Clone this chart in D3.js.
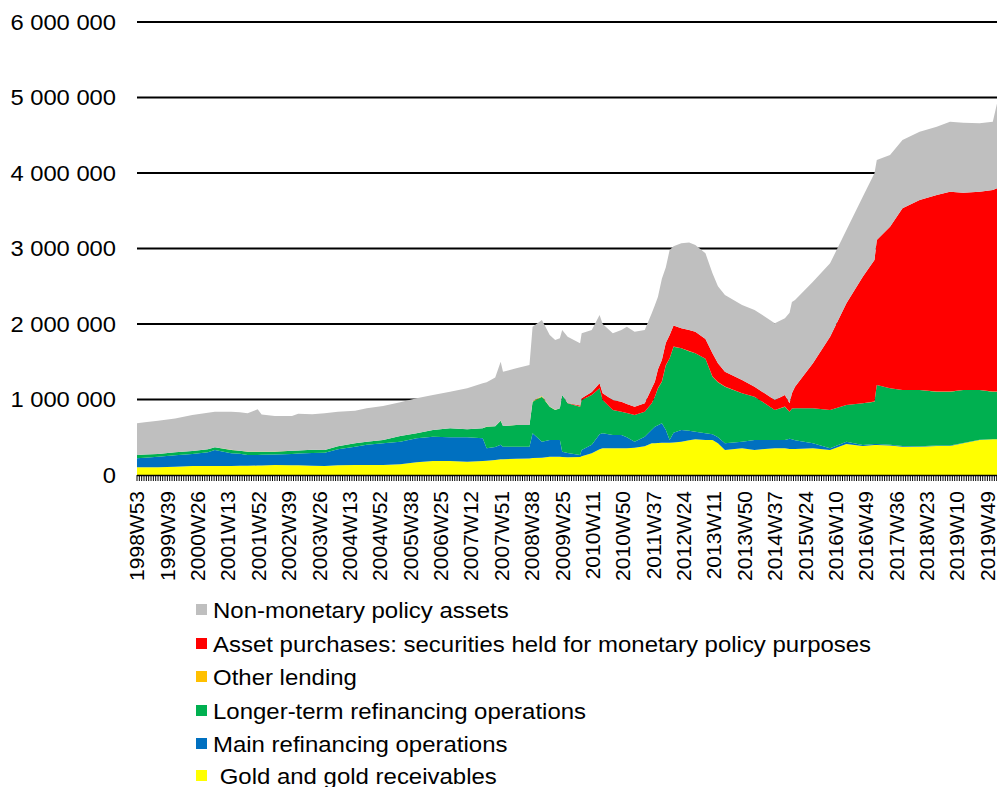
<!DOCTYPE html>
<html><head><meta charset="utf-8">
<script src="https://cdn.jsdelivr.net/npm/d3@7"></script>
<style>
html,body{margin:0;padding:0;background:#fff;}
svg{display:block;font-family:"Liberation Sans",Arial,sans-serif;}
</style></head><body>
<svg id="chart" width="997" height="787"></svg>
<script>
// ---- categories / ticks ----
const startWeek = "1998W53";
const endWeek = "2020W10";
const longYears = [2004, 2009, 2015, 2020];
const yTicks = [0, 1000000, 2000000, 3000000, 4000000, 5000000, 6000000];

// ---- sampled weeks (EUR millions) ----
const weeks = ["1998W53","1999W10","1999W27","1999W49","2000W19","2000W39","2000W48","2001W17","2001W28","2001W38",
"2001W51","2002W04","2002W21","2002W43","2002W51","2003W17","2003W33","2003W50","2004W20","2004W35",
"2005W03","2005W25","2005W46","2006W15","2006W37","2007W07","2007W27","2007W32","2007W43","2007W50",
"2008W01","2008W18","2008W35","2008W39","2008W51","2009W09","2009W16","2009W22","2009W25","2009W32",
"2009W48","2009W50","2010W10","2010W20","2010W24","2010W37","2010W48","2011W03","2011W13","2011W26",
"2011W35","2011W39","2011W43","2011W48","2012W01","2012W06","2012W11","2012W21","2012W31","2012W39",
"2012W52","2013W09","2013W16","2013W25","2013W47","2014W11","2014W24","2014W37","2014W50","2015W04",
"2015W07","2015W11","2015W34","2016W03","2016W24","2016W45","2017W08","2017W11","2017W28","2017W44",
"2018W14","2018W36","2019W01","2019W18","2019W39","2020W04","2020W10"];

const gold = [102000,102000,102000,110000,119000,119000,119000,119000,122000,122000,
125000,125000,132000,128000,128000,124000,119000,128000,132000,132000,
132000,141000,168000,185000,185000,177000,185000,190000,200000,208000,
208000,216000,220000,225000,230000,243000,243000,243000,240000,235000,
240000,250000,287000,340000,353000,353000,353000,355000,362000,380000,
420000,420000,425000,428000,428000,428000,430000,440000,460000,472000,
464000,464000,420000,331000,353000,331000,345000,353000,353000,345000,
345000,345000,353000,331000,411000,384000,397000,397000,390000,375000,
375000,384000,384000,420000,464000,472000,472000];

const mro = [119000,128000,141000,150000,159000,181000,212000,168000,158000,143000,
140000,143000,138000,150000,157000,166000,177000,212000,243000,268000,
287000,300000,318000,323000,314000,322000,301000,163000,170000,192000,
167000,159000,155000,327000,211000,221000,221000,221000,69000,55000,
25000,81000,113000,200000,199000,177000,177000,145000,79000,128000,
180000,220000,235000,257000,172000,36000,130000,156000,125000,102000,
88000,76000,80000,89000,88000,133000,119000,111000,111000,135000,
127000,115000,67000,22000,30000,13000,14000,14000,10000,9000,
5000,6000,6000,5000,4000,3000,3000];

const ltro = [44000,40000,35000,40000,40000,40000,36000,44000,40000,44000,
44000,41000,39000,42000,40000,45000,35000,40000,44000,40000,
45000,76000,66000,88000,119000,106000,132000,287000,275000,320000,
274000,287000,287000,419000,596000,441000,397000,419000,751000,660000,
640000,662000,660000,608000,441000,331000,308000,320000,354000,330000,
350000,397000,490000,551000,850000,1082000,1140000,1082000,1055000,1038000,
988000,762000,730000,750000,641000,573000,486000,397000,441000,358000,
408000,423000,463000,508000,486000,553000,560000,781000,748000,742000,
746000,714000,714000,701000,658000,629000,629000];

const otherLending = [1000,1000,1000,1000,1000,1000,1000,3000,1000,1000,
1000,1000,1000,1000,1000,1000,1000,1000,1000,1000,
1000,1000,1000,1000,1000,1000,1000,3000,1000,2000,
1000,1000,1000,5000,10000,3000,2000,1000,1000,1000,
1000,1000,1000,1000,1000,1000,1000,1000,1000,1000,
1000,1000,1000,2000,2000,2000,2000,1000,1000,1000,
1000,1000,1000,1000,1000,1000,1000,1000,1000,1000,
1000,1000,1000,1000,1000,1000,1000,1000,1000,1000,
1000,1000,1000,1000,1000,1000,1000];

const assetPurchases = [0,0,0,0,0,0,0,0,0,0,
0,0,0,0,0,0,0,0,0,0,
0,0,0,0,0,0,0,0,0,0,
0,0,0,0,0,0,0,0,0,4000,
14000,22000,39000,65000,88000,131000,132000,119000,109000,111000,
199000,198000,249000,285000,298000,306000,278000,264000,279000,285000,
259000,309000,249000,197000,175000,132000,131000,131000,154000,111000,
201000,286000,595000,970000,1346000,1676000,1876000,1920000,2140000,2405000,
2515000,2604000,2647000,2612000,2625000,2670000,2695000];

const nonMonetary = [419000,429000,440000,449000,476000,484000,470000,504000,509000,507000,
560000,490000,471000,460000,484000,467000,485000,457000,432000,444000,
449000,447000,463000,463000,485000,542000,595000,587000,644000,779000,
718000,750000,794000,988000,1006000,946000,925000,926000,860000,877000,
824000,861000,821000,905000,918000,884000,950000,1024000,993000,971000,
992000,1014000,962000,1077000,1000000,1126000,1050000,1126000,1160000,1148000,
1136000,1059000,1020000,1016000,994000,1015000,1018000,1016000,1015000,1200000,
1208000,1148000,1082000,972000,971000,1060000,1148000,1059000,949000,905000,
905000,904000,928000,927000,906000,905000,1150000];

const seriesKeys = ["gold","mro","ltro","other","asset","nonmon"];
const seriesLabels = {
  nonmon: "Non-monetary policy assets",
  asset: "Asset purchases: securities held for monetary policy purposes",
  other: "Other lending",
  ltro: "Longer-term refinancing operations",
  mro: "Main refinancing operations",
  gold: "\u00a0Gold and gold receivables"
};
const seriesColors = {
  nonmon: "#BFBFBF", asset: "#FF0000", other: "#FFC000",
  ltro: "#00B050", mro: "#0070C0", gold: "#FFFF00"
};
const legendOrder = ["nonmon","asset","other","ltro","mro","gold"];

// ---- build full weekly category list ----
const categories = [startWeek];
outer:
for (let yr = 1999; yr <= 2020; yr++) {
  const n = longYears.includes(yr) ? 53 : 52;
  for (let w = 1; w <= n; w++) {
    const lab = yr + "W" + String(w).padStart(2, "0");
    categories.push(lab);
    if (lab === endWeek) break outer;
  }
}

const rows = weeks.map((w, i) => ({
  week: w, gold: gold[i], mro: mro[i], ltro: ltro[i],
  other: otherLending[i], asset: assetPurchases[i], nonmon: nonMonetary[i]
}));

const svg = d3.select("#chart");
const x = d3.scalePoint().domain(categories).range([137, 997.5]);
const y = d3.scaleLinear().domain([0, 6000000]).range([475, 22]);
const fmt = d3.formatLocale({decimal: ".", thousands: " ", grouping: [3], currency: ["", ""]}).format(",");

// gridlines
svg.append("g").selectAll("line").data(yTicks.filter(d => d > 0)).join("line")
  .attr("x1", 137).attr("x2", 997)
  .attr("y1", d => y(d)).attr("y2", d => y(d))
  .attr("stroke", "#000").attr("stroke-width", 2);

// stacked areas
const stack = d3.stack().keys(seriesKeys);
const layers = stack(rows);
const area = d3.area()
  .x(d => x(d.data.week))
  .y0(d => y(d[0]))
  .y1(d => y(d[1]));
svg.append("g").selectAll("path").data(layers).join("path")
  .attr("d", area)
  .attr("fill", d => seriesColors[d.key]);

// x axis line + ticks
const tickCats = categories.filter((c, i) => i % 3 === 0);
const labelCats = categories.filter((c, i) => i % 39 === 0);
svg.append("line").attr("x1", 137).attr("x2", 997).attr("y1", 475.5).attr("y2", 475.5)
  .attr("stroke", "#000").attr("stroke-width", 1.5);
svg.append("g").selectAll("line").data(tickCats).join("line")
  .attr("x1", d => x(d)).attr("x2", d => x(d))
  .attr("y1", 475).attr("y2", 481)
  .attr("stroke", "#000").attr("stroke-width", 1);

// x labels
svg.append("g").selectAll("text").data(labelCats).join("text")
  .attr("transform", d => `translate(${x(d)},491) rotate(-90)`)
  .attr("text-anchor", "end")
  .attr("dy", "0.35em")
  .attr("font-size", 21)
  .attr("fill", "#000")
  .text(d => d);

// y labels
svg.append("g").selectAll("text").data(yTicks).join("text")
  .attr("transform", d => `translate(116,${y(d)}) scale(1.08,1)`)
  .attr("dy", "0.35em")
  .attr("text-anchor", "end")
  .attr("font-size", 22)
  .attr("fill", "#000")
  .text(d => fmt(d));

// legend
const legendY = [610, 644, 677, 711, 744, 776];
const lg = svg.append("g").selectAll("g").data(legendOrder).join("g")
  .attr("transform", (d, i) => `translate(196,${legendY[i]})`);
lg.append("rect").attr("x", 0).attr("y", -6).attr("width", 11).attr("height", 11)
  .attr("fill", d => seriesColors[d]);
lg.append("text")
  .attr("transform", "translate(17,0) scale(1.09,1)")
  .attr("dy", "0.35em")
  .attr("font-size", 22).attr("fill", "#000")
  .text(d => seriesLabels[d]);
</script>
</body></html>
